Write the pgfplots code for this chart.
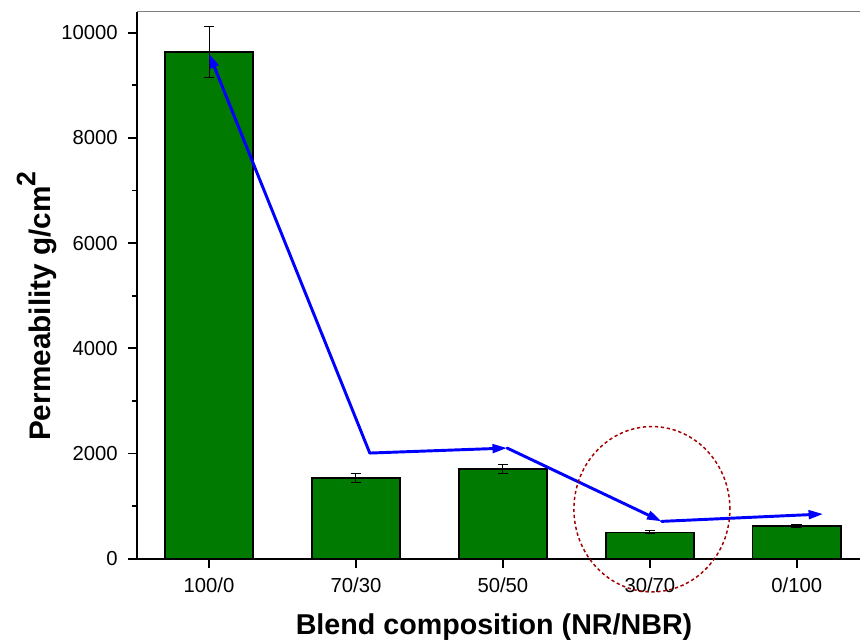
\documentclass[border=0pt]{standalone}
\usepackage{fontspec}
\setmainfont{Liberation Sans}
\usepackage{pgfplots}
\pgfplotsset{compat=1.18}
\usetikzlibrary{arrows.meta,calc}
\definecolor{bargreen}{RGB}{0,122,0}
\definecolor{circred}{RGB}{160,0,0}
\definecolor{arrowblue}{RGB}{0,0,255}

\begin{document}
\begin{tikzpicture}
\begin{axis}[
    scale only axis,
    width=542.25pt, height=410.25pt,
    xmin=-0.49, xmax=4.43,
    ymin=0, ymax=10400,
    axis x line*=bottom, axis y line*=left,
    axis line style={line width=1.5pt, -},
    ybar, bar width=0.6,
    xtick={0,1,2,3,4},
    xticklabels={100/0,70/30,50/50,30/70,0/100},
    ytick={0,2000,4000,6000,8000,10000},
    minor y tick num=1,
    tick align=outside,
    major tick length=7pt, minor tick length=3.5pt,
    tick style={line width=1.3pt, black},
    tick label style={font=\fontsize{15.2}{18}\selectfont},
    xticklabel style={yshift=-4pt},
    yticklabel style={xshift=-4pt, /pgf/number format/1000 sep={}},
    /pgf/number format/assume math mode=true,
    scaled y ticks=false,
    xlabel={Blend composition (NR/NBR)},
    ylabel={Permeability g/cm\raisebox{0.5em}{\fontsize{20}{24}\selectfont 2}},
    xlabel style={font=\fontsize{21.5}{26}\selectfont\bfseries,
        at={(axis description cs:0.4938,-0.1389)}, anchor=base},
    ylabel style={font=\fontsize{22.3}{26}\selectfont\bfseries,
        at={(axis description cs:-0.1199,0.4616)}, anchor=base},
    clip=false,
]

% permeability with error bars
\addplot[fill=bargreen, draw=black, line width=1.1pt,
    error bars/.cd, y dir=both, y explicit,
    error bar style={line width=0.75pt, black},
    error mark options={rotate=90, mark size=4pt, line width=0.75pt, black}]
coordinates {
    (0,9630) +- (0,485)
    (1,1533) +- (0,79)
    (2,1704) +- (0,85)
    (3,500)  +- (0,30)
    (4,621)  +- (0,28)
};

% top frame
\draw[gray, line width=0.8pt] (rel axis cs:0,1) -- (rel axis cs:1,1);

% trend arrows
\begin{scope}[arrowblue, line width=2.2pt, line cap=round,
    -{Triangle[length=11pt,width=6.5pt]}]
\draw (axis cs:1.094,2008) -- (axis cs:0,9605);
\draw (axis cs:1.094,2008) -- (axis cs:2.029,2103);
\draw (axis cs:2.029,2103) -- (axis cs:3.080,709);
\draw (axis cs:3.080,709) -- (axis cs:4.180,849);
\end{scope}

% highlight circle
\draw[circred, line width=1.1pt, dash pattern=on 2.5pt off 2pt]
    (axis cs:3.014,940) ellipse [x radius=58.5pt, y radius=62pt];

\coordinate (sw) at (rel axis cs:0,0);
\coordinate (ne) at (rel axis cs:1,1);
\end{axis}
\pgfresetboundingbox
\path ($(sw)+(-102.75pt,-63pt)$) rectangle ($(ne)+(0pt,8.75pt)$);
\end{tikzpicture}
\end{document}
